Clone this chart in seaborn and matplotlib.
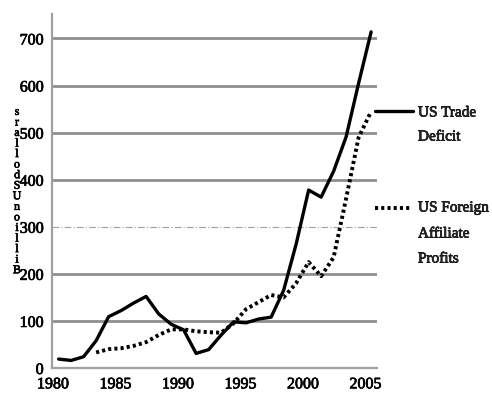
"""US trade deficit vs US foreign affiliate profits, 1980-2005."""

import matplotlib

matplotlib.use("Agg")

import matplotlib.patheffects as pe
import matplotlib.pyplot as plt
import pandas as pd
import seaborn as sns
from matplotlib.lines import Line2D

years = list(range(1980, 2006))
trade_deficit = [19, 16, 24, 58, 109, 122, 138, 152, 115, 93, 81, 31, 39,
                 70, 98, 96, 104, 108, 165, 263, 378, 363, 418, 491, 605, 714]
profit_years = list(range(1983, 2006))
affiliate_profits = [33, 40, 42, 47, 55, 70, 82, 82, 78, 76, 75, 95, 125,
                     140, 155, 150, 180, 225, 195, 235, 360, 490, 545]
y_ticks = [0, 100, 200, 300, 400, 500, 600, 700]
x_ticks = [1980, 1985, 1990, 1995, 2000, 2005]
legend_rows = [("US Trade", 113), ("Deficit", 137),
               ("US Foreign", 208), ("Affiliate", 234), ("Profits", 259)]

sns.set_style("white")
plt.rcParams["font.family"] = ["Liberation Serif", "DejaVu Serif"]
heavy = [pe.withStroke(linewidth=0.5, foreground="black")]

# values are annual totals, drawn at mid-year
deficit_df = pd.DataFrame({"year": [y + 0.45 for y in years], "value": trade_deficit})
profits_df = pd.DataFrame({"year": [y + 0.45 for y in profit_years], "value": affiliate_profits})

fig = plt.figure(figsize=(4.92, 4.0), dpi=100)
ax = fig.add_axes([52 / 492, 32 / 400, 325 / 492, 354 / 400])

sns.lineplot(data=deficit_df, x="year", y="value", color="black", lw=2.4, ax=ax)
sns.lineplot(data=profits_df, x="year", y="value", color="black", lw=2.8,
             linestyle=(0, (0.8, 0.8)), ax=ax)

ax.set_xlim(1979.92, 2005.92)
ax.set_ylim(0, 752)
ax.set_xticks(x_ticks)
ax.set_yticks(y_ticks)
ax.set_xlabel("")
ax.set_ylabel("")

ax.grid(axis="y", color="#8f8f8f", lw=2)
for line, val in zip(ax.yaxis.get_gridlines(), y_ticks):
    if val == 300:
        line.set_linestyle((0, (6, 2, 1, 2)))
        line.set_linewidth(0.8)
        line.set_color("#a0a0a0")
ax.set_axisbelow(True)

for side in ["top", "right"]:
    ax.spines[side].set_visible(False)
for side in ["left", "bottom"]:
    ax.spines[side].set_color("#a0a0a0")
    ax.spines[side].set_linewidth(1.6)

ax.tick_params(axis="both", direction="out", length=4, width=1.6, color="#a0a0a0",
               labelsize=11.5, labelcolor="black", pad=2)
for lab in ax.get_xticklabels() + ax.get_yticklabels():
    lab.set_path_effects(heavy)

# stacked letters reading bottom to top
label = "\n".join(reversed("BillionUSdollars"))
fig.text(17 / 492, 1 - 191 / 400, label, fontsize=8.5, linespacing=0.84,
         ha="center", va="center", color="black", path_effects=heavy)

# legend drawn beside the plot
fig.add_artist(Line2D([375 / 492, 413 / 492], [1 - 111 / 400] * 2, color="black", lw=2.4))
fig.add_artist(Line2D([375 / 492, 411 / 492], [1 - 208 / 400] * 2, color="black", lw=2.8,
                      linestyle=(0, (0.8, 0.8))))
for text, ypix in legend_rows:
    fig.text(418 / 492, 1 - ypix / 400, text, fontsize=11, va="center",
             path_effects=heavy)

fig.savefig("out.png", dpi=100)
